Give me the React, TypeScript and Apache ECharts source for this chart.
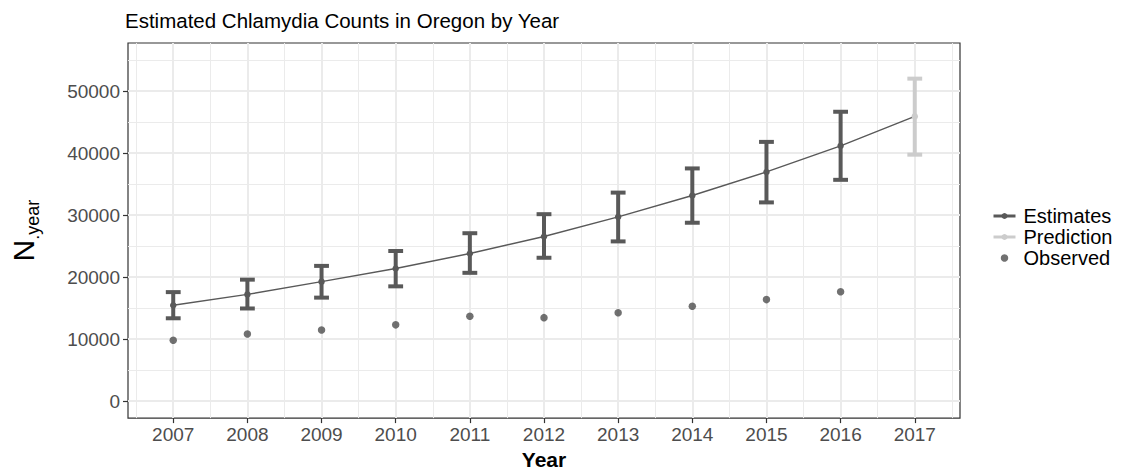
import React, { useEffect, useRef } from "react";
import * as echarts from "echarts";

// Modelled yearly counts with 95% intervals
const years = [2007, 2008, 2009, 2010, 2011, 2012, 2013, 2014, 2015, 2016];
const estimates = [15460, 17200, 19260, 21370, 23800, 26540, 29710, 33150, 36950, 41160];
const lowerCI = [13350, 14930, 16680, 18500, 20680, 23110, 25750, 28760, 32040, 35680];
const upperCI = [17570, 19580, 21800, 24200, 27070, 30140, 33620, 37520, 41800, 46660];

// One-year-ahead prediction
const predictionYear = 2017;
const prediction = 45910;
const predictionLower = 39740;
const predictionUpper = 52000;

// Reported case counts
const observed = [9800, 10820, 11450, 12290, 13670, 13450, 14240, 15300, 16360, 17630];

// Axis breaks
const xTicks = [2007, 2008, 2009, 2010, 2011, 2012, 2013, 2014, 2015, 2016, 2017];
const xMinor = [2006.5, 2007.5, 2008.5, 2009.5, 2010.5, 2011.5, 2012.5, 2013.5, 2014.5, 2015.5, 2016.5, 2017.5];
const yTicks = [0, 10000, 20000, 30000, 40000, 50000];
const yMinor = [5000, 15000, 25000, 35000, 45000, 55000];

const FONT = "'Liberation Sans', Arial, Helvetica, sans-serif";
const DARK = "#595959";
const LIGHT = "#cccccc";
const GRID = "#ebebeb";
const CAP_HALF = 0.1;

function errorBarItem(params: any, api: any) {
  const x = api.value(0);
  const lo = api.value(1);
  const hi = api.value(2);
  const top = api.coord([x, hi]);
  const bot = api.coord([x, lo]);
  const left = api.coord([x - CAP_HALF, hi])[0];
  const right = api.coord([x + CAP_HALF, hi])[0];
  const style = { stroke: api.visual("color"), lineWidth: 4, lineCap: "butt" };
  return {
    type: "group",
    children: [
      { type: "line", shape: { x1: top[0], y1: top[1], x2: bot[0], y2: bot[1] }, style },
      { type: "line", shape: { x1: left, y1: top[1], x2: right, y2: top[1] }, style },
      { type: "line", shape: { x1: left, y1: bot[1], x2: right, y2: bot[1] }, style },
    ],
  };
}

export default function App() {
  const ref = useRef<HTMLDivElement>(null);

  useEffect(() => {
    if (!ref.current) return;
    const chart = echarts.init(ref.current, undefined, { renderer: "svg" });

    const estimateLine: any[] = years.map((y, i) => [y, estimates[i]]);
    estimateLine.push({ value: [predictionYear, prediction], symbol: "none" });

    const option: any = {
      animation: false,
      backgroundColor: "#ffffff",
      textStyle: { fontFamily: FONT },
      title: {
        text: "Estimated Chlamydia Counts in Oregon by Year",
        left: 125,
        top: 9.5,
        padding: 0,
        textStyle: { fontSize: 20.5, fontWeight: "normal", color: "#000000", fontFamily: FONT },
      },
      grid: {
        left: 124,
        right: 166,
        top: 43,
        bottom: 50,
        show: true,
        borderColor: "#333333",
        borderWidth: 1.2,
        backgroundColor: "#ffffff",
      },
      legend: {
        left: 992,
        top: 206,
        orient: "vertical",
        padding: 0,
        itemWidth: 22,
        itemHeight: 7.5,
        itemGap: 1,
        selectedMode: false,
        textStyle: { fontSize: 20, color: "#000000", fontFamily: FONT, padding: [0, 0, 0, 3] },
        data: [
          { name: "Estimates", lineStyle: { width: 3, color: DARK }, itemStyle: { color: DARK } },
          { name: "Prediction", lineStyle: { width: 3, color: LIGHT }, itemStyle: { color: LIGHT } },
          { name: "Observed", itemStyle: { color: "#4d4d4d" } },
        ],
      },
      xAxis: {
        type: "value",
        min: 2006.39,
        max: 2017.61,
        axisLine: { show: false, onZero: false },
        axisTick: { show: true, customValues: xTicks, length: 5, lineStyle: { color: "#333333", width: 1.2 } },
        axisLabel: {
          customValues: xTicks,
          margin: 7,
          fontSize: 19,
          color: "#4d4d4d",
          fontFamily: FONT,
          formatter: (v: number) => String(v),
        },
        splitLine: { show: false },
        name: "Year",
        nameLocation: "middle",
        nameGap: 30,
        nameTextStyle: { fontSize: 21, fontWeight: "bold", color: "#000000", fontFamily: FONT },
      },
      yAxis: {
        type: "value",
        min: -2750,
        max: 57750,
        axisLine: { show: false, onZero: false },
        axisTick: { show: true, customValues: yTicks, length: 5, lineStyle: { color: "#333333", width: 1.2 } },
        axisLabel: {
          customValues: yTicks,
          margin: 8,
          fontSize: 19,
          color: "#4d4d4d",
          fontFamily: FONT,
          formatter: (v: number) => String(v),
        },
        splitLine: { show: false },
        name: "{n|N}{s|.year}",
        nameLocation: "middle",
        nameRotate: 90,
        nameGap: 86,
        nameTextStyle: {
          color: "#000000",
          rich: {
            n: { fontSize: 30, fontFamily: FONT, color: "#000000", padding: [0, 0, 4, 0], verticalAlign: "bottom" },
            s: { fontSize: 18, fontFamily: FONT, color: "#000000", verticalAlign: "bottom" },
          },
        },
      },
      series: [
        {
          name: "minor grid",
          type: "line",
          z: 1,
          silent: true,
          symbol: "none",
          data: [],
          markLine: {
            z: 1,
            silent: true,
            symbol: "none",
            label: { show: false },
            lineStyle: { color: GRID, width: 1, type: "solid" },
            data: [...xMinor.map((v) => ({ xAxis: v })), ...yMinor.map((v) => ({ yAxis: v }))],
          },
        },
        {
          name: "major grid",
          type: "line",
          z: 1,
          silent: true,
          symbol: "none",
          data: [],
          markLine: {
            z: 1,
            silent: true,
            symbol: "none",
            label: { show: false },
            lineStyle: { color: GRID, width: 2, type: "solid" },
            data: [...xTicks.map((v) => ({ xAxis: v })), ...yTicks.map((v) => ({ yAxis: v }))],
          },
        },
        {
          name: "Estimate interval",
          type: "custom",
          z: 3,
          renderItem: errorBarItem,
          itemStyle: { color: DARK },
          encode: { x: 0, y: [1, 2] },
          data: years.map((y, i) => [y, lowerCI[i], upperCI[i]]),
        },
        {
          name: "Prediction interval",
          type: "custom",
          z: 2,
          renderItem: errorBarItem,
          itemStyle: { color: LIGHT },
          encode: { x: 0, y: [1, 2] },
          data: [[predictionYear, predictionLower, predictionUpper]],
        },
        {
          name: "Estimates",
          type: "line",
          z: 4,
          data: estimateLine,
          symbol: "circle",
          symbolSize: 6.5,
          showSymbol: true,
          lineStyle: { color: DARK, width: 1.4 },
          itemStyle: { color: DARK },
        },
        {
          name: "Prediction",
          type: "line",
          z: 5,
          data: [[predictionYear, prediction]],
          symbol: "circle",
          symbolSize: 6.5,
          lineStyle: { color: LIGHT, width: 1.4 },
          itemStyle: { color: LIGHT },
        },
        {
          name: "Observed",
          type: "scatter",
          z: 5,
          data: years.map((y, i) => [y, observed[i]]),
          symbol: "circle",
          symbolSize: 7.5,
          itemStyle: { color: "#4d4d4d" },
        },
      ],
    };

    chart.setOption(option);
    return () => chart.dispose();
  }, []);

  return (
    <div
      ref={ref}
      style={{ position: "absolute", left: 0, top: 0, width: 1126, height: 475, background: "#fff" }}
    />
  );
}
